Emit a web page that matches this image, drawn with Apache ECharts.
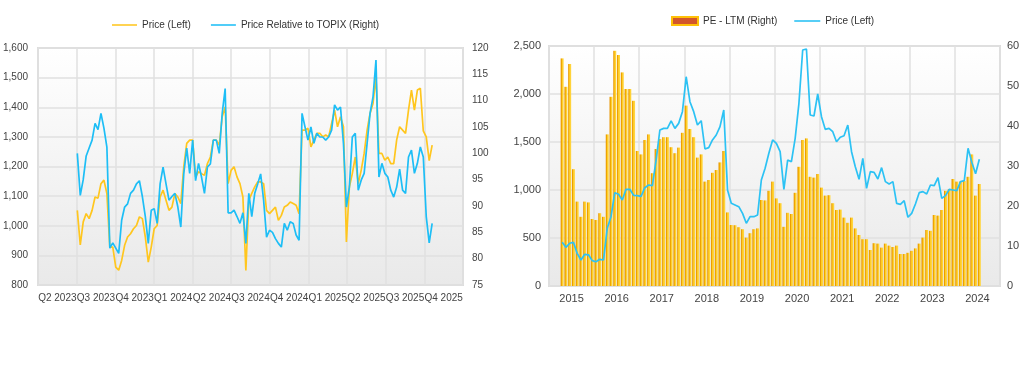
<!DOCTYPE html>
<html>
<head>
<meta charset="utf-8">
<script src="https://cdn.jsdelivr.net/npm/echarts@6/dist/echarts.min.js"></script>
<style>
html,body{margin:0;padding:0;background:#fff;}
#main{width:1024px;height:375px;}
</style>
</head>
<body>
<div id="main"></div>
<script>
// left chart: weekly price vs TOPIX relative
var quarterLabels = ['Q2 2023','Q3 2023','Q4 2023','Q1 2024','Q2 2024','Q3 2024','Q4 2024','Q1 2025','Q2 2025','Q3 2025','Q4 2025'];
var weekStart = [2023, 6, 3];   // first week, 2023-07-03
var priceWeekly = [
  1052, 935, 1013, 1041, 1024, 1052, 1097, 1093, 1142, 1154,
  1109, 928, 928, 860, 850, 883, 934, 962, 973, 990,
  1001, 1030, 1024, 962, 877, 928, 990, 1001, 1097, 1120,
  1086, 1052, 1063, 1109, 1097, 1075, 1199, 1278, 1289, 1289,
  1165, 1182, 1176, 1170, 1210, 1232, 1289, 1289, 1272, 1368,
  1401, 1142, 1187, 1199, 1165, 1142, 1097, 849, 1086, 1109,
  1131, 1148, 1148, 1142, 1052, 1041, 1052, 1063, 1018, 1035,
  1063, 1069, 1080, 1075, 1069, 1041, 1323, 1323, 1329, 1266,
  1289, 1312, 1312, 1300, 1306, 1300, 1345, 1390, 1334, 1368,
  1334, 945, 1131, 1176, 1232, 1142, 1187, 1244, 1323, 1379,
  1413, 1503, 1244, 1244, 1221, 1232, 1210, 1210, 1290, 1334,
  1323, 1312, 1390, 1458, 1390, 1458, 1464, 1320, 1300, 1220,
  1272
];
var relWeekly = [
  100, 92, 95, 99.5, 101, 102.5, 105.7, 104.5, 107.6, 104.8,
  101.2, 82, 83, 82, 81, 87.3, 89.8, 90.4, 92.4, 93,
  94.2, 94.8, 91.8, 88, 82.9, 89.2, 89.5, 86.7, 94.2, 97.4,
  94.2, 91.1, 91.8, 92.4, 89.8, 86, 96.1, 101, 96.2, 102.5,
  94.8, 98.1, 95.5, 92.4, 97.4, 98, 102.5, 102.5, 100, 107.6,
  112.3, 88.7, 88.7, 89.2, 88, 86.7, 88.7, 82.9, 92.4, 88,
  92.4, 94.2, 96.1, 91.1, 84.1, 85.4, 85, 83.8, 82.9, 82.2,
  86.7, 85.4, 87, 86.7, 84.5, 83.5, 107.6, 105, 102.5, 105,
  101.9, 103.8, 103.1, 103.1, 102.5, 103.1, 104.4, 109.2, 108.2, 108.8,
  101.9, 89.8, 93.6, 103.1, 103.8, 93, 94.9, 96.2, 101.9, 107.6,
  110.7, 117.7, 95.5, 98.1, 96.2, 95.5, 93, 91.7, 93.6, 97,
  93, 92.4, 99.3, 100.6, 96.2, 98.1, 101.2, 99.3, 88, 83,
  86.7
];

// right chart: monthly PE and price
var yearLabels = ['2015','2016','2017','2018','2019','2020','2021','2022','2023','2024'];
var firstMonth = 3;   // April 2015
var peMonthly = [
  56.9, 49.8, 55.5, 29.2, 21.1, 17.3, 21.1, 20.9, 16.75, 16.5, 18.2, 17.3,
  37.9, 47.3, 58.8, 57.75, 53.4, 49.25, 49.25, 46.3, 33.75, 32.9, 36.5, 37.9,
  28.2, 34.25, 36.75, 37.2, 37.2, 34.7, 33.2, 34.6, 38.3, 45.1, 39.25, 37.2,
  32.1, 32.9, 26.1, 26.5, 28.3, 29, 30.9, 33.75, 18.4, 15.25, 15.2, 14.7,
  14.2, 12.1, 13.2, 14.2, 14.4, 21.5, 21.4, 23.8, 26.1, 21.9, 20.7, 14.8,
  18.3, 18.0, 23.3, 29.8, 36.5, 36.9, 27.3, 27.1, 28, 24.6, 22.6, 22.7,
  20.7, 19, 19.1, 17.1, 15.8, 17.1, 14.4, 12.75, 11.7, 11.7, 9, 10.7,
  10.6, 9.6, 10.6, 10.1, 9.75, 10.1, 8, 8, 8.3, 8.8, 9.4, 10.6,
  12.1, 14, 13.8, 17.75, 17.6, 19, 23.8, 24.2, 26.75, 26.1, 26.1, 26.25,
  27.3, 32.9, 22.6, 25.5
];
var priceMonthly = [
  455, 403, 445, 455, 340, 271, 330, 325, 264, 253, 278, 271,
  601, 722, 972, 955, 896, 1007, 1007, 945, 942, 934, 1024, 1052,
  1045, 1312, 1625, 1642, 1642, 1719, 1642, 1694, 1816, 2180, 1920, 1816,
  1677, 1722, 1427, 1441, 1521, 1573, 1660, 1833, 1000, 861, 844, 826,
  757, 653, 722, 722, 740, 1104, 1226, 1382, 1521, 1486, 1399, 1007,
  1312, 1295, 1538, 1903, 2458, 2469, 1781, 1771, 2000, 1764, 1632, 1642,
  1607, 1503, 1549, 1566, 1677, 1399, 1243, 1111, 1330, 1018, 1191, 1184,
  1115, 1233, 1087, 1063, 1087, 861, 851, 889, 716, 757, 854, 972,
  983, 958, 1052, 1045, 1128, 913, 941, 1007, 1000, 993, 1087, 1097,
  1434, 1290, 1170, 1320
];

var yellow = '#FFC61E';
var blue = '#1DBEF6';
var blue2 = '#2cc2f4';
var font = 'Liberation Sans, Arial, sans-serif';
// thin line icon for the legend, padded so it sits in the middle of the item box
var lineIcon = 'path://M0,0L0,0M0,3.2L26,3.2L26,4.8L0,4.8ZM26,8L26,8';

function thousands(v) {
    return String(v).replace(/\B(?=(\d{3})+(?!\d))/g, ',');
}

// weekly dates for the left chart
var DAY = 86400000;
var t0 = Date.UTC(weekStart[0], weekStart[1], weekStart[2]);
var priceData = [], relData = [];
for (var i = 0; i < priceWeekly.length; i++) {
    priceData.push([t0 + i * 7 * DAY, priceWeekly[i]]);
    relData.push([t0 + i * 7 * DAY, relWeekly[i]]);
}

// month categories for the right chart
var months = [];
for (var y = 2015; y <= 2024; y++) {
    for (var m = 1; m <= 12; m++) months.push(y + '-' + (m < 10 ? '0' + m : m));
}
var peData = [], priceRData = [];
for (var j = 0; j < peMonthly.length; j++) {
    peData.push([months[firstMonth + j], peMonthly[j]]);
    priceRData.push([months[firstMonth + j], priceMonthly[j]]);
}

var plotBg = new echarts.graphic.LinearGradient(0, 0, 0, 1, [
    { offset: 0, color: '#ffffff' },
    { offset: 1, color: '#e9e9e9' }
]);
var barFill = new echarts.graphic.LinearGradient(0, 0, 1, 0, [
    { offset: 0, color: '#e69300' },
    { offset: 0.35, color: '#f0aa00' },
    { offset: 0.45, color: '#ffcb22' },
    { offset: 1, color: '#ffd84a' }
]);

var gridLine = { show: true, interval: 0, lineStyle: { color: '#e1e1e1', width: 1.5 } };
var labelStyle = { color: '#444', fontFamily: font };

var chart = echarts.init(document.getElementById('main'));
chart.setOption({
    animation: false,
    textStyle: { fontFamily: font },
    legend: [{
        left: 112, top: 20, padding: 0,
        itemWidth: 25, itemHeight: 8, itemGap: 20,
        textStyle: { fontSize: 10, color: '#333', fontFamily: font },
        data: [
            { name: 'Price (Left)', icon: lineIcon },
            { name: 'Price Relative to TOPIX (Right)', icon: lineIcon }
        ]
    }, {
        left: 671, top: 16, padding: 0,
        itemWidth: 26, itemHeight: 8, itemGap: 17,
        textStyle: { fontSize: 10, color: '#333', fontFamily: font },
        formatter: function (name) { return name === 'priceRight' ? 'Price (Left)' : name; },
        data: [
            { name: 'PE - LTM (Right)', icon: 'rect', itemStyle: { color: '#d2562b', borderColor: '#ffc107', borderWidth: 2 } },
            { name: 'priceRight', icon: lineIcon }
        ]
    }],
    grid: [{
        left: 37, top: 48, width: 426, height: 237,
        show: true, backgroundColor: plotBg, borderColor: '#dcdcdc', borderWidth: 2
    }, {
        left: 549, top: 46, width: 451, height: 240,
        show: true, backgroundColor: plotBg, borderColor: '#dcdcdc', borderWidth: 2
    }],
    xAxis: [{
        type: 'category', gridIndex: 0, data: quarterLabels, boundaryGap: true,
        axisLine: { show: false }, axisTick: { show: false },
        axisLabel: Object.assign({ interval: 0, fontSize: 10, margin: 8, hideOverlap: false }, labelStyle),
        splitLine: gridLine
    }, {
        type: 'time', gridIndex: 0, show: false,
        min: Date.UTC(2023, 3, 1), max: Date.UTC(2026, 0, 1)
    }, {
        type: 'category', gridIndex: 1, data: yearLabels, boundaryGap: true,
        axisLine: { show: false }, axisTick: { show: false },
        axisLabel: Object.assign({ interval: 0, fontSize: 11, margin: 7 }, labelStyle),
        splitLine: gridLine
    }, {
        type: 'category', gridIndex: 1, data: months, show: false, boundaryGap: true
    }],
    yAxis: [{
        type: 'value', gridIndex: 0, position: 'left', min: 800, max: 1600, interval: 100,
        axisLine: { show: false }, axisTick: { show: false },
        axisLabel: Object.assign({ fontSize: 10, margin: 10, formatter: thousands }, labelStyle),
        splitLine: gridLine
    }, {
        type: 'value', gridIndex: 0, position: 'right', min: 75, max: 120, interval: 5,
        axisLine: { show: false }, axisTick: { show: false },
        axisLabel: Object.assign({ fontSize: 10, margin: 9 }, labelStyle),
        splitLine: { show: false }
    }, {
        type: 'value', gridIndex: 1, position: 'left', min: 0, max: 2500, interval: 500,
        axisLine: { show: false }, axisTick: { show: false },
        axisLabel: Object.assign({ fontSize: 11, margin: 8, formatter: thousands }, labelStyle),
        splitLine: gridLine
    }, {
        type: 'value', gridIndex: 1, position: 'right', min: 0, max: 60, interval: 10,
        axisLine: { show: false }, axisTick: { show: false },
        axisLabel: Object.assign({ fontSize: 11, margin: 7 }, labelStyle),
        splitLine: { show: false }
    }],
    series: [{
        name: 'Price (Left)', type: 'line', xAxisIndex: 1, yAxisIndex: 0,
        data: priceData, symbol: 'none', z: 2,
        lineStyle: { color: yellow, width: 1.7 }, itemStyle: { color: yellow }
    }, {
        name: 'Price Relative to TOPIX (Right)', type: 'line', xAxisIndex: 1, yAxisIndex: 1,
        data: relData, symbol: 'none', z: 3,
        lineStyle: { color: blue, width: 1.7 }, itemStyle: { color: blue }
    }, {
        name: 'PE - LTM (Right)', type: 'bar', xAxisIndex: 3, yAxisIndex: 3,
        data: peData, barWidth: 3,
        itemStyle: { color: barFill }
    }, {
        name: 'priceRight', type: 'line', xAxisIndex: 3, yAxisIndex: 2,
        data: priceRData, symbol: 'none', z: 3,
        lineStyle: { color: blue2, width: 1.7 }, itemStyle: { color: blue2 }
    }]
});
</script>
</body>
</html>
